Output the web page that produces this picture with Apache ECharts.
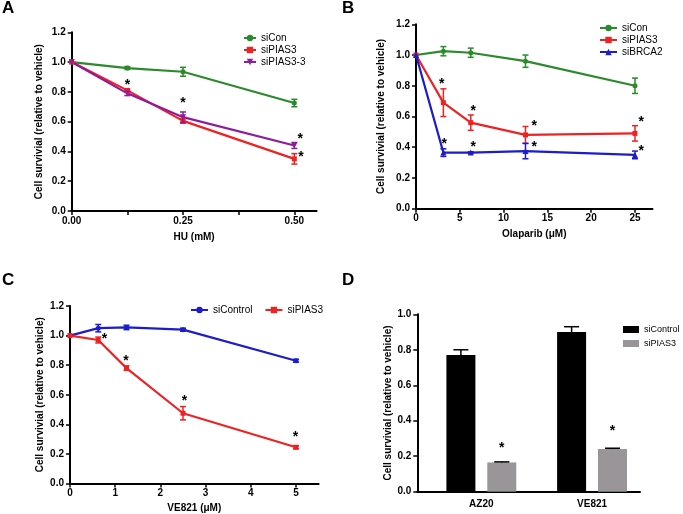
<!DOCTYPE html>
<html><head><meta charset="utf-8">
<script src="https://cdn.jsdelivr.net/npm/echarts@6.0.0/dist/echarts.min.js"></script>
<style>html,body{margin:0;padding:0;background:#fff}#c{width:683px;height:514px}</style>
</head><body><div id="c"></div>
<script>
// ---------- Panel A: HU ----------
const aDoses = [0, 0.125, 0.25, 0.5];
const aSiCon = [1.0, 0.96, 0.935, 0.725];
const aSiConErr = [0, 0.01, 0.03, 0.025];
const aSiPIAS3 = [1.0, 0.81, 0.605, 0.35];
const aSiPIAS3Err = [0, 0.01, 0.015, 0.035];
const aSiPIAS33 = [1.0, 0.79, 0.63, 0.44];
const aSiPIAS33Err = [0, 0.015, 0.035, 0.02];
const aStars = [[0.125, 0.864], [0.25, 0.745], [0.513, 0.504], [0.515, 0.383]];
const aXTicks = [0, 0.125, 0.25, 0.375, 0.5];
const aXLabels = [0, 0.25, 0.5];

// ---------- Panel B: Olaparib ----------
const bDoses = [0, 3.125, 6.25, 12.5, 25];
const bSiCon = [1.0, 1.025, 1.015, 0.96, 0.8];
const bSiConErr = [0, 0.03, 0.03, 0.04, 0.05];
const bSiPIAS3 = [1.0, 0.69, 0.56, 0.48, 0.49];
const bSiPIAS3Err = [0, 0.09, 0.05, 0.055, 0.05];
const bSiBRCA2 = [1.0, 0.365, 0.365, 0.375, 0.35];
const bSiBRCA2Err = [0, 0.025, 0.005, 0.05, 0.025];
const bStars = [[2.93, 0.831], [6.54, 0.653], [13.5, 0.56], [25.7, 0.584],
                [3.23, 0.44], [6.54, 0.421], [13.5, 0.421], [25.7, 0.397]];
const bXTicks = [0, 5, 10, 15, 20, 25];

// ---------- Panel C: VE821 ----------
const cDoses = [0, 0.625, 1.25, 2.5, 5];
const cSiControl = [1.0, 1.05, 1.055, 1.04, 0.83];
const cSiControlErr = [0, 0.025, 0.015, 0.01, 0.01];
const cSiPIAS3 = [1.0, 0.97, 0.78, 0.475, 0.245];
const cSiPIAS3Err = [0, 0.02, 0.015, 0.045, 0.01];
const cStars = [[0.76, 0.998], [1.24, 0.848], [2.53, 0.574], [4.99, 0.336]];
const cXTicks = [0, 1, 2, 3, 4, 5];

// ---------- Panel D: bars ----------
const dCategories = ['AZ20', 'VE821'];
const dSiControl = [0.77, 0.90];
const dSiControlErr = [0.03, 0.03];
const dSiPIAS3 = [0.165, 0.24];
const dSiPIAS3Err = [0.003, 0.005];
const dStars = [[0, 0.263], [1, 0.361]]; // over siPIAS3 bars

const yTitle = 'Cell survivial (relative to vehicle)';

// ---------- styling ----------
const FONT = '"Liberation Sans", Arial, sans-serif';
const GREEN = '#2b8a2b', RED = '#ee2222', PURPLE = '#8e1c9c', BLUE = '#1c1ccc', GRAY = '#9a9599';
const BAR_W = 29, BAR_GAP = 0.41;
const axLine = { show: true, lineStyle: { color: '#000', width: 2 } };
const axTick = { show: true, length: 4, lineStyle: { color: '#000', width: 1.5 } };
const lblStyle = { fontFamily: FONT, fontWeight: 'bold', fontSize: 10, color: '#000' };

function yAxis(gi, max, gap) {
  return {
    type: 'value', gridIndex: gi, min: 0, max: max, interval: 0.2,
    name: yTitle, nameLocation: 'middle', nameGap: gap,
    nameTextStyle: Object.assign({}, lblStyle),
    axisLine: axLine, axisTick: axTick,
    axisLabel: Object.assign({ margin: 6, formatter: v => v.toFixed(1) }, lblStyle),
    splitLine: { show: false }
  };
}
function xValAxis(gi, max, name, gap, ticks, labels, fmt) {
  return {
    type: 'value', gridIndex: gi, min: 0, max: max, name: name, nameLocation: 'middle', nameGap: gap,
    nameTextStyle: Object.assign({}, lblStyle),
    axisLine: axLine,
    axisTick: Object.assign({ customValues: ticks }, axTick),
    axisLabel: Object.assign({ margin: 5, customValues: labels, formatter: fmt }, lblStyle),
    splitLine: { show: false }
  };
}
function lineSeries(name, xs, ys, color, gi, symbol, size, rot) {
  return {
    type: 'line', name: name, xAxisIndex: gi, yAxisIndex: gi,
    data: xs.map((x, i) => [x, ys[i]]),
    symbol: symbol, symbolSize: size, symbolRotate: rot || 0, showSymbol: true,
    lineStyle: { color: color, width: 2.2 }, itemStyle: { color: color },
    z: 2, silent: true
  };
}
function errSeries(xs, ys, errs, color, gi) {
  return {
    type: 'custom', xAxisIndex: gi, yAxisIndex: gi, silent: true, z: 3,
    data: xs.map((x, i) => [x, ys[i], errs[i]]),
    renderItem: function (params, api) {
      const x = api.value(0), y = api.value(1), e = api.value(2);
      if (!e) return null;
      const t = api.coord([x, y + e]), b = api.coord([x, y - e]);
      const w = 3;
      const st = { stroke: color, lineWidth: 1.5 };
      return { type: 'group', children: [
        { type: 'line', shape: { x1: t[0], y1: t[1], x2: b[0], y2: b[1] }, style: st },
        { type: 'line', shape: { x1: t[0] - w, y1: t[1], x2: t[0] + w, y2: t[1] }, style: st },
        { type: 'line', shape: { x1: b[0] - w, y1: b[1], x2: b[0] + w, y2: b[1] }, style: st }
      ] };
    }
  };
}
function starSeries(pts, gi, dxFn) {
  return {
    type: 'custom', xAxisIndex: gi, yAxisIndex: gi, silent: true, z: 4,
    data: pts,
    renderItem: function (params, api) {
      const p = api.coord([api.value(0), api.value(1)]);
      const dx = dxFn ? dxFn() : 0;
      return { type: 'text', x: p[0] + dx, y: p[1] + 3,
        style: { text: '*', fill: '#000', font: 'bold 14px ' + FONT, align: 'center', verticalAlign: 'middle' } };
    }
  };
}
const barDx = (BAR_W * (1 + BAR_GAP)) / 2;

const legendText = { fontFamily: FONT, fontSize: 10, color: '#000' };
const letterStyle = { fontFamily: FONT, fontWeight: 'bold', fontSize: 17, color: '#000' };

const option = {
  animation: false,
  backgroundColor: '#fff',
  title: [
    { text: 'A', left: 2, top: 0, padding: 0, textStyle: letterStyle },
    { text: 'B', left: 342, top: 0, padding: 0, textStyle: letterStyle },
    { text: 'C', left: 2, top: 272, padding: 0, textStyle: letterStyle },
    { text: 'D', left: 342, top: 272, padding: 0, textStyle: letterStyle }
  ],
  legend: [
    { orient: 'vertical', left: 243, top: 33, itemWidth: 12, itemHeight: 8, itemGap: 2, padding: 0,
      textStyle: legendText, data: ['siCon', 'siPIAS3', 'siPIAS3-3'], selectedMode: false },
    { orient: 'vertical', left: 599, top: 23, itemWidth: 17, itemHeight: 8, itemGap: 2, padding: 0,
      textStyle: legendText, data: [{ name: 'siCon' }, { name: 'siPIAS3' }, { name: 'siBRCA2' }], selectedMode: false },
    { orient: 'horizontal', left: 190, top: 305, itemWidth: 17, itemHeight: 8, itemGap: 12, padding: 0,
      textStyle: legendText, data: [{ name: 'siControl', itemStyle: { color: BLUE }, lineStyle: { color: BLUE } },
                                    { name: 'siPIAS3', itemStyle: { color: RED }, lineStyle: { color: RED } }], selectedMode: false },
    { orient: 'vertical', left: 623, top: 325, itemWidth: 16, itemHeight: 7, itemGap: 5, padding: 0,
      textStyle: { fontFamily: FONT, fontSize: 9, color: '#000' }, selectedMode: false,
      data: [{ name: 'siControl', icon: 'rect', itemStyle: { color: '#000' } },
             { name: 'siPIAS3', icon: 'rect', itemStyle: { color: GRAY } }] }
  ],
  grid: [
    { left: 71.7, top: 32.3, width: 244.9, height: 178.7 },
    { left: 416, top: 24.3, width: 236.5, height: 184.4 },
    { left: 70, top: 306, width: 248.6, height: 178.3 },
    { left: 417.3, top: 314.3, width: 222.7, height: 177.4 },
    { left: 426, top: 314.3, width: 221.4, height: 177.4 }
  ],
  xAxis: [
    xValAxis(0, 0.55, 'HU (mM)', 21, aXTicks, aXLabels, v => v.toFixed(2)),
    xValAxis(1, 27, 'Olaparib (μM)', 21, bXTicks, bXTicks, v => String(v)),
    xValAxis(2, 5.5, 'VE821 (μM)', 19.5, cXTicks, cXTicks, v => String(v)),
    { type: 'value', gridIndex: 3, min: 0, max: 1, axisLine: axLine, axisTick: { show: false },
      axisLabel: { show: false }, splitLine: { show: false } },
    { type: 'category', gridIndex: 4, data: dCategories, axisLine: { show: false }, axisTick: { show: false },
      axisLabel: Object.assign({ margin: 8 }, lblStyle), splitLine: { show: false } }
  ],
  yAxis: [
    yAxis(0, 1.2, 27),
    yAxis(1, 1.2, 30),
    yAxis(2, 1.2, 25),
    yAxis(3, 1.0, 14),
    { type: 'value', gridIndex: 4, min: 0, max: 1, show: false }
  ],
  series: [
    // A
    lineSeries('siCon', aDoses, aSiCon, GREEN, 0, 'circle', 5),
    lineSeries('siPIAS3', aDoses, aSiPIAS3, RED, 0, 'rect', 5),
    lineSeries('siPIAS3-3', aDoses, aSiPIAS33, PURPLE, 0, 'triangle', 6, 180),
    errSeries(aDoses, aSiCon, aSiConErr, GREEN, 0),
    errSeries(aDoses, aSiPIAS3, aSiPIAS3Err, RED, 0),
    errSeries(aDoses, aSiPIAS33, aSiPIAS33Err, PURPLE, 0),
    starSeries(aStars, 0),
    // B
    lineSeries('siCon', bDoses, bSiCon, GREEN, 1, 'circle', 5),
    lineSeries('siPIAS3', bDoses, bSiPIAS3, RED, 1, 'rect', 5),
    lineSeries('siBRCA2', bDoses, bSiBRCA2, BLUE, 1, 'triangle', 6),
    errSeries(bDoses, bSiCon, bSiConErr, GREEN, 1),
    errSeries(bDoses, bSiPIAS3, bSiPIAS3Err, RED, 1),
    errSeries(bDoses, bSiBRCA2, bSiBRCA2Err, BLUE, 1),
    starSeries(bStars, 1),
    // C
    lineSeries('siControl', cDoses, cSiControl, BLUE, 2, 'circle', 5),
    lineSeries('siPIAS3', cDoses, cSiPIAS3, RED, 2, 'rect', 5),
    errSeries(cDoses, cSiControl, cSiControlErr, BLUE, 2),
    errSeries(cDoses, cSiPIAS3, cSiPIAS3Err, RED, 2),
    starSeries(cStars, 2),
    // D
    { type: 'bar', name: 'siControl', xAxisIndex: 4, yAxisIndex: 4, data: dSiControl,
      barWidth: BAR_W, barGap: (BAR_GAP * 100) + '%', itemStyle: { color: '#000' }, silent: true },
    { type: 'bar', name: 'siPIAS3', xAxisIndex: 4, yAxisIndex: 4, data: dSiPIAS3,
      barWidth: BAR_W, barGap: (BAR_GAP * 100) + '%', itemStyle: { color: GRAY }, silent: true },
    {
      type: 'custom', xAxisIndex: 4, yAxisIndex: 4, silent: true, z: 5,
      data: dCategories.map((c, i) => [i, dSiControl[i], dSiControlErr[i], 0])
        .concat(dCategories.map((c, i) => [i, dSiPIAS3[i], dSiPIAS3Err[i], 1])),
      renderItem: function (params, api) {
        const i = api.value(0), v = api.value(1), e = api.value(2), s = api.value(3);
        const dx = s === 0 ? -barDx : barDx;
        const b = api.coord([i, v]), t = api.coord([i, v + e]);
        const st = { stroke: '#000', lineWidth: 1.5 };
        const x = b[0] + dx, w = 7.5;
        return { type: 'group', children: [
          { type: 'line', shape: { x1: x, y1: b[1], x2: x, y2: t[1] }, style: st },
          { type: 'line', shape: { x1: x - w, y1: t[1], x2: x + w, y2: t[1] }, style: st }
        ] };
      }
    },
    starSeries(dStars, 4, () => barDx)
  ]
};
const chart = echarts.init(document.getElementById('c'), null, { renderer: 'canvas' });
chart.setOption(option);
</script>
</body></html>
